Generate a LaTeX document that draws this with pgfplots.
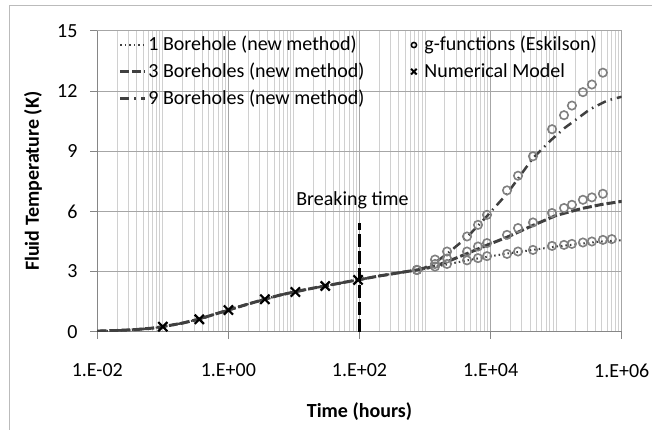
\documentclass[border=0pt]{standalone}
\usepackage{pgfplots}
\pgfplotsset{compat=1.18}
\usepackage{fontspec}
\setmainfont{Carlito}
\definecolor{linegray}{HTML}{404040}
\definecolor{circgray}{HTML}{808080}
\definecolor{gridmaj}{HTML}{A6A6A6}
\definecolor{gridmin}{HTML}{D0D0D0}
\definecolor{axisgray}{HTML}{868686}
\definecolor{framegray}{HTML}{BBBBBB}
\pgfplotsset{
  mylinelegend/.style={legend image code/.code={\draw[##1] (0pt,0pt) -- (25pt,0pt);}},
  mymarklegend/.style={legend image code/.code={\path (0pt,0pt) (17pt,0pt); \draw[##1] plot coordinates {(9pt,0pt)};}},
}
\begin{document}
\fontsize{20}{24}\selectfont
\begin{tikzpicture}
\useasboundingbox (0pt,0pt) rectangle (652pt,430pt);
\draw[framegray, line width=1pt] (9pt,0pt) -- (9pt,424pt) -- (652pt,424pt);
\begin{axis}[
  at={(97.3pt,98.3pt)}, anchor=south west,
  scale only axis, width=524.4pt, height=300.7pt,
  xmode=log, xmin=1e-2, xmax=1e6, ymin=0, ymax=15,
  xtick={1e-2,1,1e2,1e4,1e6},
  xticklabels={1.E-02,1.E+00,1.E+02,1.E+04,1.E+06},
  ytick={0,3,6,9,12,15}, yticklabels={0,3,6,9,12,15},
  minor xtick={0.02,0.03,0.04,0.05,0.06,0.07,0.08,0.09,0.1,
    0.2,0.3,0.4,0.5,0.6,0.7,0.8,0.9,
    2,3,4,5,6,7,8,9,10,
    20,30,40,50,60,70,80,90,
    200,300,400,500,600,700,800,900,1000,
    2000,3000,4000,5000,6000,7000,8000,9000,
    20000,30000,40000,50000,60000,70000,80000,90000,100000,
    200000,300000,400000,500000,600000,700000,800000,900000},
  grid=both,
  major grid style={color=gridmaj, line width=1pt},
  minor grid style={color=gridmin, line width=1pt},
  axis x line*=bottom, axis y line*=left,
  axis line style={color=axisgray, line width=1pt, -},
  tick align=outside, major tick length=7pt, minor tick length=0pt,
  tick style={color=axisgray, line width=1pt},
  /pgf/number format/assume math mode=true,
  xticklabel style={yshift=-18pt},
  yticklabel style={xshift=-6pt},
  xlabel={\bfseries Time (hours)},
  ylabel={\bfseries Fluid Temperature (K)},
  xlabel style={at={(axis description cs:0.5,-0.267)}, anchor=center},
  ylabel style={at={(axis description cs:-0.1226,0.5)}, anchor=center},
  legend style={at={(0.035,0.995)}, anchor=north west, draw=none, fill=none,
    nodes={inner sep=1.5pt}, row sep=6pt,
    /tikz/every even column/.append style={column sep=38pt}},
  legend columns=2, legend cell align=left,
]
% g-functions (Eskilson): 1, 3 and 9 boreholes
\addplot[only marks, mark=o, mark size=4.2pt, color=circgray, line width=1.6pt, forget plot] coordinates {
 (753,3.08) (1419,3.25) (2163,3.38) (4366,3.56) (6427,3.67) (8813,3.77) (17800,3.88) (26200,4.0) (44300,4.08) (86500,4.28) (131800,4.33) (174000,4.38) (256000,4.45) (351000,4.5) (516000,4.58) (706000,4.62)
};
\addplot[only marks, mark=o, mark size=4.2pt, color=circgray, line width=1.6pt, forget plot] coordinates {
 (753,3.08) (1419,3.38) (2163,3.65) (4366,4.0) (6427,4.25) (8813,4.42) (17800,4.83) (26200,5.17) (44300,5.45) (86500,5.92) (131800,6.17) (174000,6.33) (256000,6.58) (351000,6.7) (516000,6.88)
};
\addplot[only marks, mark=o, mark size=4.2pt, color=circgray, line width=1.6pt, forget plot] coordinates {
 (753,3.08) (1419,3.6) (2163,4.0) (4366,4.75) (6427,5.33) (8813,5.83) (17800,7.05) (26200,7.78) (44300,8.75) (86500,10.1) (131800,10.8) (174000,11.28) (256000,11.95) (351000,12.33) (516000,12.92)
};
% 1 Borehole (new method)
\addplot[color=linegray, line width=2pt, dash pattern=on 1.5pt off 3pt, forget plot] coordinates {
 (0.01,0.03) (0.02,0.06) (0.04,0.11) (0.07,0.18) (0.1,0.25) (0.2,0.43) (0.36,0.63) (0.6,0.86) (1,1.08) (2,1.38) (3.6,1.62) (6,1.82) (10,1.98) (20,2.18) (30,2.28) (60,2.47) (100,2.6) (200,2.78) (400,2.94) (750,3.08)
 (1000,3.13) (1500,3.25) (2200,3.36) (4400,3.56) (9000,3.74) (18000,3.9) (44000,4.08) (100000,4.25) (250000,4.4) (500000,4.5) (1000000,4.56)
};
% 3 Boreholes (new method)
\addplot[color=linegray, line width=3pt, dash pattern=on 9pt off 3pt, forget plot] coordinates {
 (0.01,0.03) (0.02,0.06) (0.04,0.11) (0.07,0.18) (0.1,0.25) (0.2,0.43) (0.36,0.63) (0.6,0.86) (1,1.08) (2,1.38) (3.6,1.62) (6,1.82) (10,1.98) (20,2.18) (30,2.28) (60,2.47) (100,2.6) (200,2.78) (400,2.94) (750,3.08)
 (1000,3.15) (1500,3.3) (2200,3.5) (4400,3.9) (9000,4.33) (18000,4.72) (44000,5.3) (100000,5.8) (250000,6.15) (500000,6.35) (1000000,6.5)
};
% 9 Boreholes (new method)
\addplot[color=linegray, line width=2.5pt, dash pattern=on 9pt off 5pt on 1.5pt off 5pt, forget plot] coordinates {
 (0.01,0.03) (0.02,0.06) (0.04,0.11) (0.07,0.18) (0.1,0.25) (0.2,0.43) (0.36,0.63) (0.6,0.86) (1,1.08) (2,1.38) (3.6,1.62) (6,1.82) (10,1.98) (20,2.18) (30,2.28) (60,2.47) (100,2.6) (200,2.78) (400,2.94) (750,3.08)
 (1000,3.2) (1500,3.5) (2200,3.9) (4400,4.72) (9000,5.8) (18000,6.9) (44000,8.65) (83000,9.55) (137000,10.18) (330000,11.1) (600000,11.53) (1000000,11.72)
};
% Numerical Model
\addplot[only marks, mark=x, mark size=6.5pt, color=black, line width=2.2pt, forget plot] coordinates {
 (0.1,0.25) (0.36,0.62) (1,1.08) (3.6,1.62) (10.5,1.98) (30,2.28) (95,2.58)
};
% Breaking time
\addplot[color=black, line width=2.5pt, dash pattern=on 13pt off 4pt, forget plot] coordinates {(100,0) (100,5.4)};
\node[anchor=center] at (axis cs:100,6.55) [xshift=-7pt] {Breaking time};
% legend
\addlegendimage{mylinelegend, color=linegray, line width=2pt, dash pattern=on 1.5pt off 3pt}
\addlegendentry{1 Borehole (new method)}
\addlegendimage{mymarklegend, only marks, mark=o, mark size=2.6pt, color=black, line width=1.5pt}
\addlegendentry{g-functions (Eskilson)}
\addlegendimage{mylinelegend, color=linegray, line width=3pt, dash pattern=on 9pt off 3pt}
\addlegendentry{3 Boreholes (new method)}
\addlegendimage{mymarklegend, only marks, mark=x, mark size=4pt, color=black, line width=2pt}
\addlegendentry{Numerical Model}
\addlegendimage{mylinelegend, color=linegray, line width=2.5pt, dash pattern=on 9pt off 5pt on 1.5pt off 5pt}
\addlegendentry{9 Boreholes (new method)}
\end{axis}
\end{tikzpicture}
\end{document}
